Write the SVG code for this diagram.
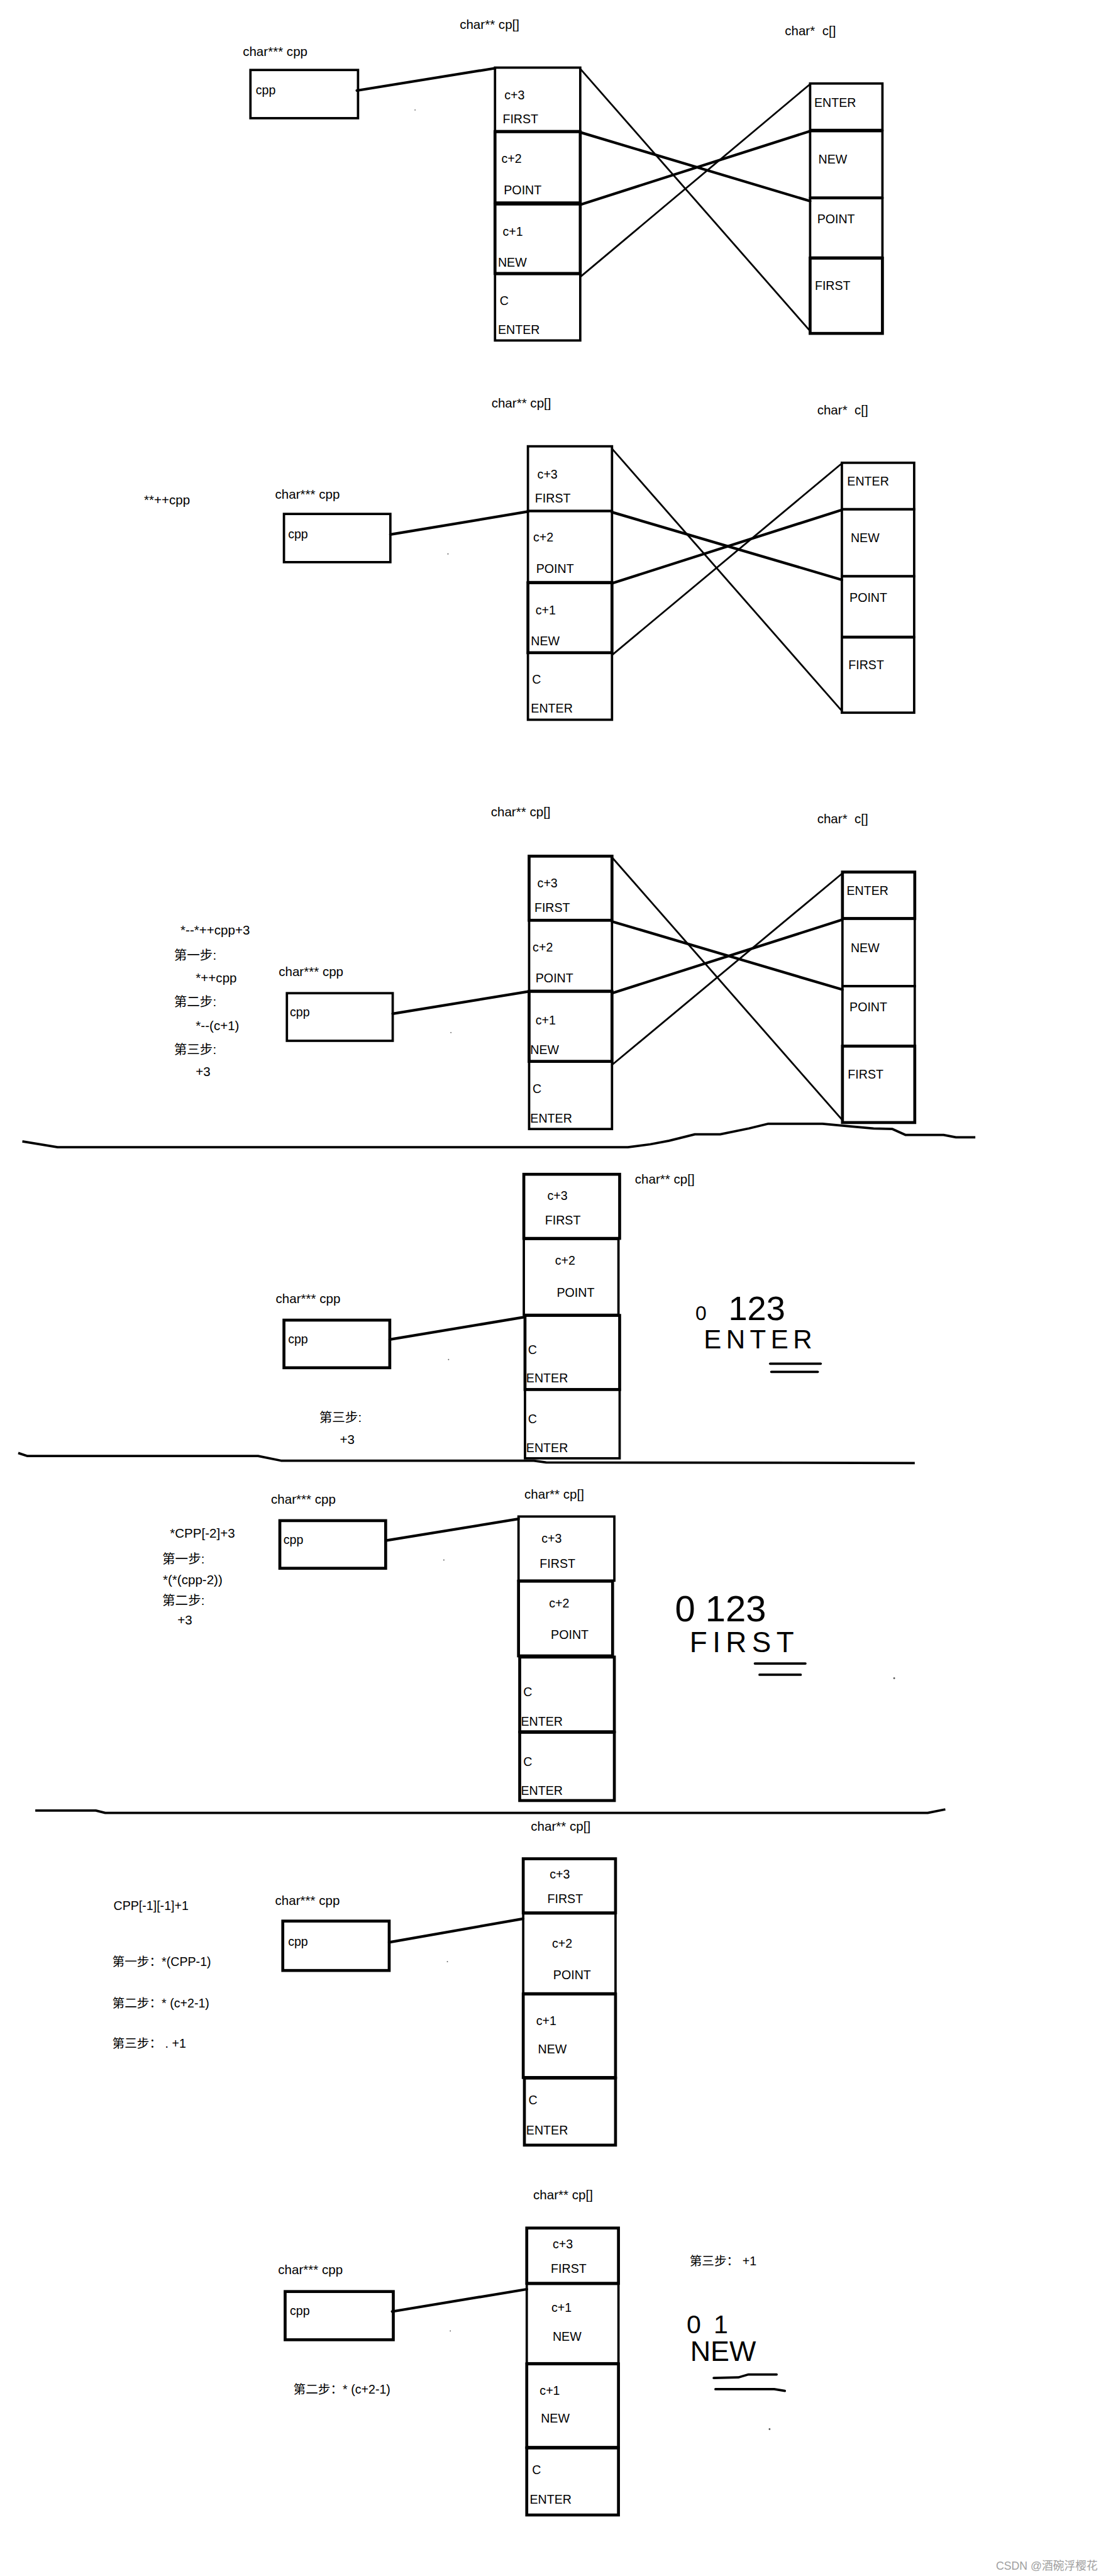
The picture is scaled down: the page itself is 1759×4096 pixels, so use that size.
<svg xmlns="http://www.w3.org/2000/svg" width="1759" height="4096" viewBox="0 0 1759 4096">
<style>
.box{fill:none;stroke:#000;stroke-width:4}
.t{font-family:"Liberation Sans","Noto Sans CJK SC",sans-serif;font-size:21px;fill:#000}
.l{font-size:22px}
.s{font-size:22px}
.big{font-family:"Liberation Sans",sans-serif;fill:#000}
.hk{stroke:#000;stroke-width:4.5;stroke-linecap:round;fill:none}
.tn{stroke:#000;stroke-width:3;fill:none}
.dv{stroke:#000;stroke-width:4;fill:none;stroke-linejoin:round}
.eq{stroke:#000;stroke-width:4;fill:none;stroke-linecap:round}
.dot{fill:#555}
</style>
<rect width="1759" height="4096" fill="#fff"/>
<g transform="scale(0.935)">

<!-- connectors -->
<g id="connectors">
  <line class="hk" x1="607" y1="154" x2="842" y2="116"/>
  <line class="tn" x1="987" y1="117" x2="1378" y2="563"/>
  <line class="hk" x1="987" y1="225" x2="1378" y2="342"/>
  <line class="hk" x1="987" y1="348" x2="1378" y2="223"/>
  <line class="tn" x1="987" y1="471" x2="1378" y2="143"/>

  <line class="hk" x1="664" y1="909" x2="898" y2="870"/>
  <line class="tn" x1="1041" y1="763" x2="1432" y2="1209"/>
  <line class="hk" x1="1041" y1="871" x2="1432" y2="986"/>
  <line class="hk" x1="1041" y1="992" x2="1432" y2="867"/>
  <line class="tn" x1="1041" y1="1114" x2="1432" y2="788"/>

  <line class="hk" x1="668" y1="1724" x2="900" y2="1686"/>
  <line class="tn" x1="1041" y1="1458" x2="1433" y2="1905"/>
  <line class="hk" x1="1041" y1="1567" x2="1433" y2="1683"/>
  <line class="hk" x1="1041" y1="1689" x2="1433" y2="1564"/>
  <line class="tn" x1="1041" y1="1811" x2="1433" y2="1485"/>

  <line class="hk" x1="663" y1="2278" x2="891" y2="2240"/>
  <line class="hk" x1="656" y1="2620" x2="882" y2="2583"/>
  <line class="hk" x1="662" y1="3303" x2="890" y2="3263"/>
  <line class="hk" x1="667" y1="3931" x2="896" y2="3893"/>
</g>

<!-- dividers -->
<g id="dividers">
  <path class="dv" d="M38,1941 L98,1951 L1068,1951 L1106,1946 L1138,1940 L1182,1929 L1225,1929 L1274,1919 L1307,1911 L1399,1911 L1442,1915 L1486,1919 L1518,1920 L1540,1930 L1605,1930 L1626,1934 L1659,1934"/>
  <path class="dv" d="M31,2471 L46,2476 L439,2476 L478,2484 L908,2484 L929,2487 L1556,2488"/>
  <path class="dv" d="M60,3079 L163,3079 L179,3083 L1578,3083 L1608,3077"/>
</g>

<!-- ===== Section 1 ===== -->
<g id="s1-cpp">
  <text class="t l" x="413" y="95">char*** cpp</text>
  <rect class="box" x="426" y="119" width="183" height="82"/>
  <text class="t" x="435" y="160">cpp</text>
</g>
<g id="s1-cp">
  <text class="t l" x="782" y="49">char** cp[]</text>
  <rect class="box" x="842" y="115" width="145" height="108"/>
  <rect class="box" x="842" y="224" width="145" height="121" style="stroke-width:5"/>
  <rect class="box" x="842" y="347" width="145" height="118" style="stroke-width:5"/>
  <rect class="box" x="842" y="466" width="145" height="113"/>
  <text class="t" x="858" y="169">c+3</text>
  <text class="t" x="855" y="210">FIRST</text>
  <text class="t" x="853" y="277">c+2</text>
  <text class="t" x="857" y="330">POINT</text>
  <text class="t" x="855" y="401">c+1</text>
  <text class="t" x="847" y="453">NEW</text>
  <text class="t" x="850" y="519">C</text>
  <text class="t" x="847" y="568">ENTER</text>
</g>
<g id="s1-c">
  <text class="t l" x="1335" y="60" xml:space="preserve">char*  c[]</text>
  <rect class="box" x="1378" y="142" width="123" height="79"/>
  <rect class="box" x="1378" y="223" width="123" height="113"/>
  <rect class="box" x="1378" y="337" width="123" height="101"/>
  <rect class="box" x="1378" y="439" width="123" height="128" style="stroke-width:5"/>
  <text class="t" x="1385" y="182">ENTER</text>
  <text class="t" x="1392" y="278">NEW</text>
  <text class="t" x="1390" y="380">POINT</text>
  <text class="t" x="1386" y="493">FIRST</text>
</g>
<circle class="dot" cx="706" cy="187" r="1"/>

<!-- ===== Section 2 ===== -->
<g id="s2-expr"><text class="t s" x="245" y="858">**++cpp</text></g>
<g id="s2-cpp">
  <text class="t l" x="468" y="848">char*** cpp</text>
  <rect class="box" x="483" y="874" width="181" height="82"/>
  <text class="t" x="490" y="915">cpp</text>
</g>
<g id="s2-cp">
  <text class="t l" x="836" y="693">char** cp[]</text>
  <rect class="box" x="898" y="759" width="143" height="110"/>
  <rect class="box" x="898" y="869" width="143" height="121"/>
  <rect class="box" x="898" y="991" width="143" height="119" style="stroke-width:5"/>
  <rect class="box" x="898" y="1110" width="143" height="114"/>
  <text class="t" x="914" y="814">c+3</text>
  <text class="t" x="910" y="855">FIRST</text>
  <text class="t" x="907" y="921">c+2</text>
  <text class="t" x="912" y="974">POINT</text>
  <text class="t" x="911" y="1045">c+1</text>
  <text class="t" x="903" y="1097">NEW</text>
  <text class="t" x="905" y="1163">C</text>
  <text class="t" x="903" y="1212">ENTER</text>
</g>
<g id="s2-c">
  <text class="t l" x="1390" y="705" xml:space="preserve">char*  c[]</text>
  <rect class="box" x="1432" y="787" width="123" height="79"/>
  <rect class="box" x="1432" y="866" width="123" height="114"/>
  <rect class="box" x="1432" y="980" width="123" height="103"/>
  <rect class="box" x="1432" y="1084" width="123" height="128"/>
  <text class="t" x="1441" y="826">ENTER</text>
  <text class="t" x="1447" y="922">NEW</text>
  <text class="t" x="1445" y="1024">POINT</text>
  <text class="t" x="1443" y="1138">FIRST</text>
</g>
<circle class="dot" cx="762" cy="942" r="1"/>

<!-- ===== Section 3 ===== -->
<g id="s3-steps">
  <text class="t s" x="307" y="1589">*--*++cpp+3</text>
  <text class="t s" x="296" y="1632">第一步:</text>
  <text class="t s" x="333" y="1671">*++cpp</text>
  <text class="t s" x="296" y="1711">第二步:</text>
  <text class="t s" x="333" y="1752">*--(c+1)</text>
  <text class="t s" x="296" y="1792">第三步:</text>
  <text class="t s" x="333" y="1830">+3</text>
</g>
<g id="s3-cpp">
  <text class="t l" x="474" y="1660">char*** cpp</text>
  <rect class="box" x="488" y="1689" width="180" height="81"/>
  <text class="t" x="493" y="1728">cpp</text>
</g>
<g id="s3-cp">
  <text class="t l" x="835" y="1388">char** cp[]</text>
  <rect class="box" x="900" y="1456" width="141" height="109" style="stroke-width:5"/>
  <rect class="box" x="900" y="1565" width="141" height="120"/>
  <rect class="box" x="900" y="1686" width="141" height="119" style="stroke-width:5"/>
  <rect class="box" x="900" y="1805" width="141" height="115"/>
  <text class="t" x="914" y="1509">c+3</text>
  <text class="t" x="909" y="1551">FIRST</text>
  <text class="t" x="906" y="1618">c+2</text>
  <text class="t" x="911" y="1671">POINT</text>
  <text class="t" x="911" y="1742">c+1</text>
  <text class="t" x="902" y="1792">NEW</text>
  <text class="t" x="906" y="1859">C</text>
  <text class="t" x="902" y="1909">ENTER</text>
</g>
<g id="s3-c">
  <text class="t l" x="1390" y="1400" xml:space="preserve">char*  c[]</text>
  <rect class="box" x="1433" y="1483" width="123" height="79" style="stroke-width:5"/>
  <rect class="box" x="1433" y="1562" width="123" height="115"/>
  <rect class="box" x="1433" y="1677" width="123" height="102"/>
  <rect class="box" x="1433" y="1779" width="123" height="130" style="stroke-width:5"/>
  <text class="t" x="1440" y="1522">ENTER</text>
  <text class="t" x="1447" y="1619">NEW</text>
  <text class="t" x="1445" y="1720">POINT</text>
  <text class="t" x="1442" y="1834">FIRST</text>
</g>
<circle class="dot" cx="767" cy="1756" r="1"/>

<!-- ===== Section 4 ===== -->
<g id="s4-cp">
  <rect class="box" x="891" y="1997" width="163" height="109" style="stroke-width:5"/>
  <rect class="box" x="891" y="2107" width="161" height="129"/>
  <rect class="box" x="893" y="2237" width="161" height="126" style="stroke-width:5"/>
  <rect class="box" x="893" y="2363" width="161" height="117"/>
  <text class="t l" x="1080" y="2013">char** cp[]</text>
  <text class="t" x="931" y="2041">c+3</text>
  <text class="t" x="927" y="2082">FIRST</text>
  <text class="t" x="944" y="2151">c+2</text>
  <text class="t" x="947" y="2205">POINT</text>
  <text class="t" x="898" y="2303">C</text>
  <text class="t" x="895" y="2351">ENTER</text>
  <text class="t" x="898" y="2420">C</text>
  <text class="t" x="895" y="2469">ENTER</text>
</g>
<g id="s4-cpp">
  <text class="t l" x="469" y="2216">char*** cpp</text>
  <rect class="box" x="483" y="2245" width="180" height="81" style="stroke-width:5"/>
  <text class="t" x="490" y="2285">cpp</text>
</g>
<g id="s4-step">
  <text class="t s" x="543" y="2418">第三步:</text>
  <text class="t s" x="578" y="2456">+3</text>
</g>
<g id="s4-result">
  <text class="big" x="1183" y="2245"><tspan font-size="34">0 </tspan><tspan x="1239" font-size="58">123</tspan></text>
  <text class="big" x="1197" y="2293" font-size="45" letter-spacing="8">ENTER</text>
  <line class="eq" x1="1310" y1="2319" x2="1396" y2="2319"/>
  <line class="eq" x1="1312" y1="2333" x2="1391" y2="2333"/>
</g>
<circle class="dot" cx="763" cy="2312" r="1"/>

<!-- ===== Section 5 ===== -->
<g id="s5-steps">
  <text class="t s" x="289" y="2615">*CPP[-2]+3</text>
  <text class="t s" x="276" y="2659">第一步:</text>
  <text class="t s" x="277" y="2694">*(*(cpp-2))</text>
  <text class="t s" x="276" y="2729">第二步:</text>
  <text class="t s" x="302" y="2763">+3</text>
</g>
<g id="s5-cpp">
  <text class="t l" x="461" y="2557">char*** cpp</text>
  <rect class="box" x="476" y="2586" width="180" height="81" style="stroke-width:5"/>
  <text class="t" x="482" y="2626">cpp</text>
</g>
<g id="s5-cp">
  <text class="t l" x="892" y="2549">char** cp[]</text>
  <rect class="box" x="882" y="2579" width="163" height="109"/>
  <rect class="box" x="882" y="2689" width="160" height="127" style="stroke-width:5"/>
  <rect class="box" x="884" y="2818" width="161" height="127" style="stroke-width:5"/>
  <rect class="box" x="884" y="2946" width="161" height="116" style="stroke-width:5"/>
  <text class="t" x="921" y="2624">c+3</text>
  <text class="t" x="918" y="2666">FIRST</text>
  <text class="t" x="934" y="2734">c+2</text>
  <text class="t" x="937" y="2787">POINT</text>
  <text class="t" x="890" y="2885">C</text>
  <text class="t" x="886" y="2935">ENTER</text>
  <text class="t" x="890" y="3003">C</text>
  <text class="t" x="886" y="3052">ENTER</text>
</g>
<g id="s5-result">
  <text class="big" x="1148" y="2757" font-size="62">0 123</text>
  <text class="big" x="1173" y="2810" font-size="49" letter-spacing="9">FIRST</text>
  <line class="eq" x1="1284" y1="2829" x2="1370" y2="2829"/>
  <line class="eq" x1="1292" y1="2848" x2="1362" y2="2848"/>
</g>
<circle class="dot" cx="755" cy="2653" r="1"/>
<circle class="dot" cx="1521" cy="2854" r="1.5"/>

<!-- ===== Section 6 ===== -->
<g id="s6-steps">
  <text class="t" x="193" y="3248">CPP[-1][-1]+1</text>
  <text class="t" x="191" y="3343">第一步：*(CPP-1)</text>
  <text class="t" x="191" y="3414">第二步：* (c+2-1)</text>
  <text class="t" x="191" y="3482">第三步： . +1</text>
</g>
<g id="s6-cpp">
  <text class="t l" x="468" y="3240">char*** cpp</text>
  <rect class="box" x="481" y="3267" width="181" height="84" style="stroke-width:5"/>
  <text class="t" x="490" y="3309">cpp</text>
</g>
<g id="s6-cp">
  <text class="t l" x="903" y="3113">char** cp[]</text>
  <rect class="box" x="890" y="3161" width="157" height="92" style="stroke-width:5"/>
  <rect class="box" x="890" y="3254" width="157" height="136"/>
  <rect class="box" x="890" y="3391" width="157" height="142" style="stroke-width:5"/>
  <rect class="box" x="892" y="3534" width="155" height="114" style="stroke-width:5"/>
  <text class="t" x="935" y="3195">c+3</text>
  <text class="t" x="931" y="3236">FIRST</text>
  <text class="t" x="939" y="3312">c+2</text>
  <text class="t" x="941" y="3366">POINT</text>
  <text class="t" x="912" y="3444">c+1</text>
  <text class="t" x="915" y="3492">NEW</text>
  <text class="t" x="899" y="3579">C</text>
  <text class="t" x="895" y="3630">ENTER</text>
</g>
<circle class="dot" cx="761" cy="3336" r="1"/>

<!-- ===== Section 7 ===== -->
<g id="s7-cpp">
  <text class="t l" x="473" y="3867">char*** cpp</text>
  <rect class="box" x="485" y="3897" width="184" height="82" style="stroke-width:5"/>
  <text class="t" x="493" y="3937">cpp</text>
</g>
<g id="s7-step"><text class="t" x="499" y="4071">第二步：* (c+2-1)</text></g>
<g id="s7-cp">
  <text class="t l" x="907" y="3740">char** cp[]</text>
  <rect class="box" x="896" y="3789" width="156" height="94" style="stroke-width:5"/>
  <rect class="box" x="896" y="3884" width="156" height="135"/>
  <rect class="box" x="896" y="4020" width="156" height="142" style="stroke-width:5"/>
  <rect class="box" x="896" y="4163" width="156" height="114" style="stroke-width:5"/>
  <text class="t" x="940" y="3823">c+3</text>
  <text class="t" x="937" y="3865">FIRST</text>
  <text class="t" x="938" y="3932">c+1</text>
  <text class="t" x="940" y="3981">NEW</text>
  <text class="t" x="918" y="4073">c+1</text>
  <text class="t" x="920" y="4120">NEW</text>
  <text class="t" x="905" y="4207">C</text>
  <text class="t" x="901" y="4258">ENTER</text>
</g>
<g id="s7-result">
  <text class="t" x="1173" y="3852">第三步： +1</text>
  <text class="big" x="1168" y="3968" font-size="44"><tspan>0 </tspan><tspan x="1214">1</tspan></text>
  <text class="big" x="1174" y="4015" font-size="48">NEW</text>
  <path class="eq" d="M1214,4044 L1256,4043 L1273,4038 L1321,4038"/>
  <path class="eq" d="M1217,4063 L1317,4063 L1335,4066"/>
</g>
<circle class="dot" cx="766" cy="3964" r="1"/>
<circle class="dot" cx="1309" cy="4131" r="1.5"/>

<text x="1694" y="4370" style="font-family:'Liberation Sans','Noto Sans CJK SC',sans-serif;font-size:19px;fill:#a0a0a0">CSDN @酒碗浮樱花</text>
</g>
</svg>
